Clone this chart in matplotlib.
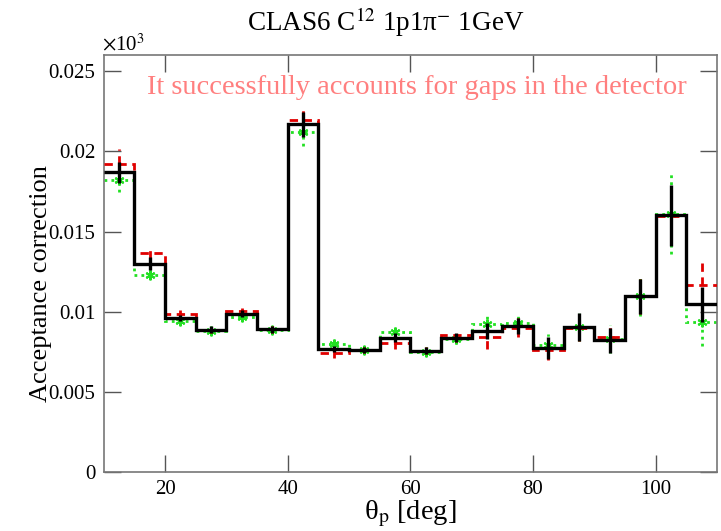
import numpy as np
import matplotlib
matplotlib.use("Agg")
import matplotlib.pyplot as plt

plt.rcParams["font.family"] = "Liberation Serif"
plt.rcParams["mathtext.fontset"] = "stix"

# bin edges in theta_p [deg]
edges = np.arange(10, 111, 5)
centers = (edges[:-1] + edges[1:]) / 2

black = [0.01871, 0.01300, 0.00961, 0.00888, 0.00989, 0.00890, 0.02168, 0.00766, 0.00760, 0.00839,
         0.00758, 0.00839, 0.00880, 0.00911, 0.00775, 0.00905, 0.00822, 0.01096, 0.01601, 0.01047]
black_err = [0.00065, 0.0004, 0.0002, 0.0002, 0.0002, 0.0002, 0.0008, 0.0002, 0.0002, 0.0003,
             0.0002, 0.0003, 0.0005, 0.0005, 0.0007, 0.0009, 0.00078, 0.0011, 0.0019, 0.0011]

red = [0.01923, 0.01366, 0.00989, 0.00885, 0.01005, 0.00890, 0.02193, 0.00743, 0.00760, 0.00806,
       0.00758, 0.00854, 0.00840, 0.00900, 0.00762, 0.00900, 0.00840, 0.01096, 0.01595, 0.01165]
red_err = [0.0009, 0.0004, 0.0002, 0.0002, 0.0002, 0.0002, 0.0008, 0.0003, 0.0002, 0.0004,
           0.0002, 0.0004, 0.0007, 0.0006, 0.0006, 0.0008, 0.0008, 0.0011, 0.0018, 0.0017]

green = [0.01824, 0.01232, 0.00941, 0.00880, 0.00968, 0.00885, 0.02124, 0.00797, 0.00760, 0.00874,
         0.00750, 0.00830, 0.00926, 0.00930, 0.00790, 0.00905, 0.00830, 0.01096, 0.01610, 0.00934]
green_err = [0.0008, 0.0003, 0.0002, 0.0002, 0.0002, 0.0002, 0.0009, 0.0003, 0.0002, 0.0003,
             0.0002, 0.0003, 0.0006, 0.0006, 0.0007, 0.0009, 0.0009, 0.0012, 0.0025, 0.0015]

yticks = [0, 0.005, 0.01, 0.015, 0.02, 0.025]
ytick_labels = ["0", "0.005", "0.01", "0.015", "0.02", "0.025"]
xticks = [20, 40, 60, 80, 100]

fig = plt.figure(figsize=(7.21, 5.31), dpi=100)
ax = fig.add_axes([0.144, 0.111, 0.8505, 0.785])

# green dotted
ax.stairs(green, edges, baseline=None, color="#22e022", lw=2.0, ls=(0, (1, 1.5)), zorder=2)
ax.vlines(centers, np.array(green) - green_err, np.array(green) + green_err,
          color="#22e022", lw=2.0, linestyles=(0, (1, 1.5)), zorder=2)
ax.plot(centers, green, ls="none", marker=(6, 2, 0), ms=7, mew=1.5, color="#22e022", zorder=2)

# red dashed
ax.stairs(red, edges, baseline=None, color="#e00000", lw=2.0, ls=(0, (3, 2)), zorder=3)
ax.vlines(centers, np.array(red) - red_err, np.array(red) + red_err,
          color="#e00000", lw=2.0, linestyles=(0, (3, 2)), zorder=3)

# black solid
ax.stairs(black, edges, baseline=None, color="black", lw=2.4, zorder=4)
ax.vlines(centers, np.array(black) - black_err, np.array(black) + black_err,
          color="black", lw=2.4, zorder=4)

ax.set_xlim(10, 110)
ax.set_ylim(0, 0.026)
ax.set_xticks(xticks)
ax.set_yticks(yticks)
ax.set_yticklabels(ytick_labels)
ax.tick_params(direction="in", length=12, width=1, color="#555555", labelsize=15,
               top=True, right=True, pad=6)
for s in ax.spines.values():
    s.set_color("#777777")
    s.set_linewidth(1.2)

ax.set_xlabel("θ$_{\\mathrm{p}}$ [deg]", fontsize=20.5)
ax.xaxis.set_label_coords(0.5, -0.064)
ax.xaxis.label.set_va("top")
ax.set_ylabel("Acceptance correction", fontsize=19)
ax.yaxis.set_label_coords(-0.085, 0.453)
fig.suptitle("CLAS6 C$^{12}$ 1p1π$^{-}$ 1GeV", fontsize=19.5, x=0.535, y=0.99)
fig.text(0.142, 0.905, r"$\times$10$^{3}$", fontsize=15)
ax.text(0.51, 0.923, "It successfully accounts for gaps in the detector", transform=ax.transAxes,
        ha="center", va="center", color="#ff7f7f", fontsize=20.5)

fig.savefig("out.png", dpi=100)
